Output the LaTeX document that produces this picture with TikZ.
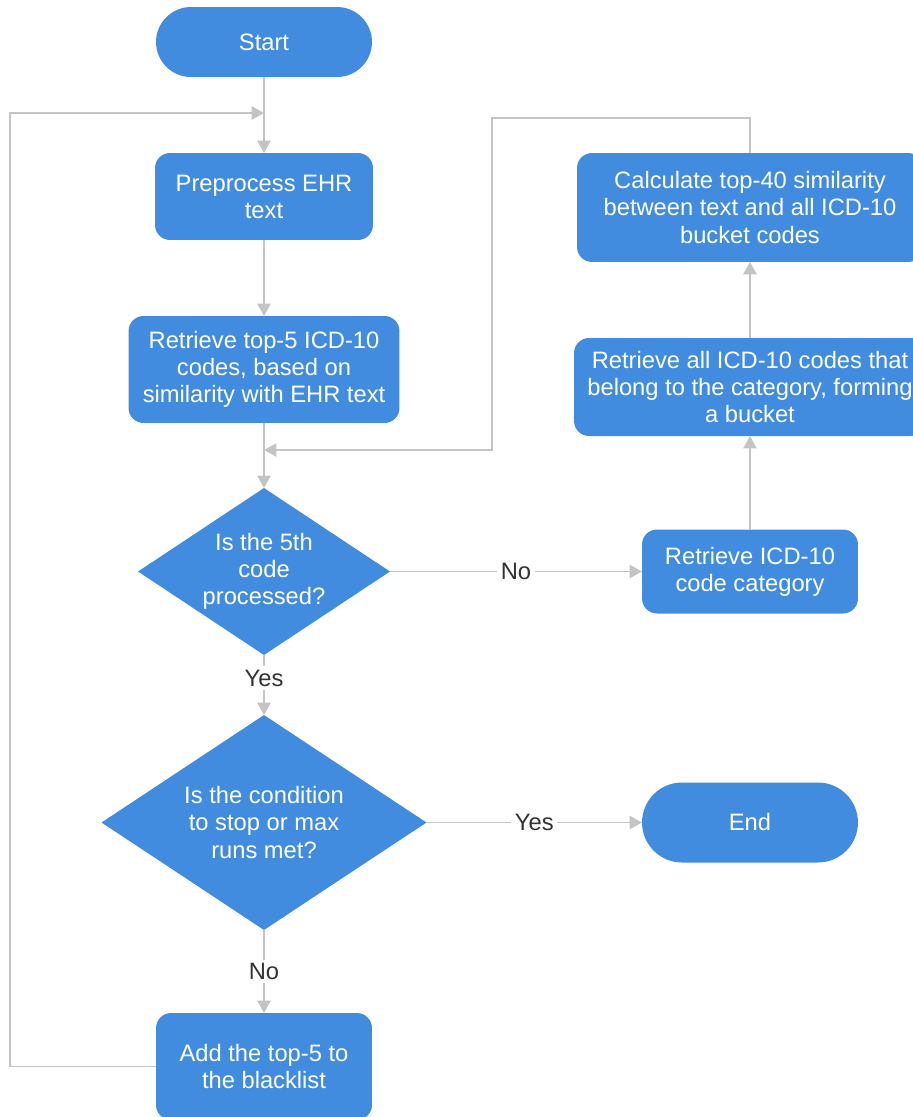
\documentclass[tikz,border=0pt]{standalone}
\usepackage{fontspec}
\setmainfont{Liberation Sans}
\usetikzlibrary{arrows.meta,shapes.geometric}
\definecolor{boxblue}{HTML}{418CDE}
\definecolor{linegray}{HTML}{C4C4C4}
\definecolor{labelgray}{HTML}{333333}

\begin{document}
\begin{tikzpicture}[x=0.02cm, y=-0.02cm,
  txt/.style={font=\fontsize{13.5}{15.4}\selectfont},
  box/.style={txt, fill=boxblue, text=white, rounded corners=0.3cm,
    align=center, inner sep=0pt, outer sep=0pt},
  decision/.style={shape=diamond, fill=boxblue, inner sep=0pt, outer sep=0pt},
  dtext/.style={txt, text=white, align=center, inner sep=0pt},
  lbl/.style={txt, fill=white, text=labelgray, inner sep=2pt},
  arr/.style={draw=linegray, line width=0.9pt,
    -{Triangle[length=0.25cm,width=0.27cm]}}]

\useasboundingbox (0,0) rectangle (913,1117);
\clip (0,0) rectangle (913,1117);

% main column
\node[box, rounded corners=0.7cm, minimum width=4.32cm, minimum height=1.4cm]
  (start) at (264,42) {Start};
\node[box, minimum width=4.36cm, minimum height=1.74cm]
  (pre) at (264,196.5) {Preprocess EHR\\text};
\node[box, minimum width=5.42cm, minimum height=2.14cm]
  (ret5) at (264,369.5) {Retrieve top-5 ICD-10\\codes, based on\\similarity with EHR text};
\node[decision, minimum width=5.04cm, minimum height=3.34cm] (d1) at (264,571.5) {};
\node[dtext] (d1t) at (264,571.5) {Is the 5th\\code\\processed?};
\node[decision, minimum width=6.5cm, minimum height=4.3cm] (d2) at (264,822.5) {};
\node[dtext] (d2t) at (264,822.5) {Is the condition\\to stop or max\\runs met?};
\node[box, minimum width=4.32cm, minimum height=2.14cm]
  (add) at (264,1066.5) {Add the top-5 to\\the blacklist};

% right column
\node[box, rounded corners=0.8cm, minimum width=4.32cm, minimum height=1.6cm]
  (end) at (750,822.5) {End};
\node[box, minimum width=4.32cm, minimum height=1.68cm]
  (cat) at (750,571.5) {Retrieve ICD-10\\code category};
\node[box, minimum width=7.04cm, minimum height=1.96cm]
  (all) at (750,387) {Retrieve all ICD-10 codes that\\belong to the category, forming\\a bucket};
\node[box, minimum width=6.92cm, minimum height=2.18cm]
  (calc) at (750,207.5) {Calculate top-40 similarity\\between text and all ICD-10\\bucket codes};

% junctions and bends
\coordinate (j1) at (264,113);
\coordinate (lp) at (10,113);
\coordinate (j2) at (264,450);
\coordinate (c1) at (492,118);

% connectors
\draw[arr] (start) -- (pre);
\draw[arr] (add.west) -| (lp) -- (j1);
\draw[arr] (pre) -- (ret5);
\draw[arr] (ret5) -- (d1);
\draw[arr] (calc.north) |- (c1) |- (j2);
\draw[arr] (d1) -- node[lbl] {No} (cat);
\draw[arr] (cat) -- (all);
\draw[arr] (all) -- (calc);
\draw[arr] (d1) -- node[lbl, pos=0.383] {Yes} (d2);
\draw[arr] (d2) -- node[lbl] {Yes} (end);
\draw[arr] (d2) -- node[lbl, pos=0.5] {No} (add);
\end{tikzpicture}
\end{document}
